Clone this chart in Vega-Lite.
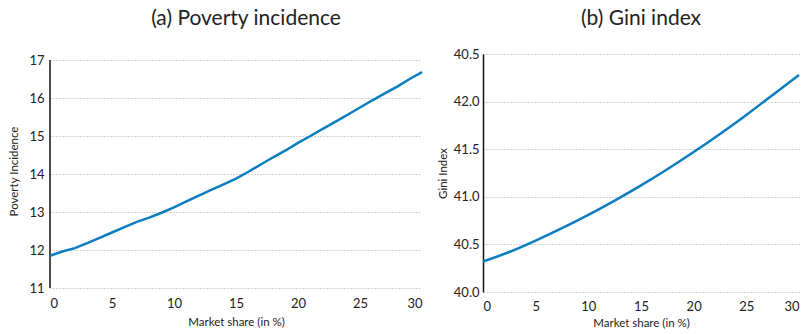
{
  "$schema": "https://vega.github.io/schema/vega-lite/v6.json",
  "background": "white",
  "padding": {"left": 8, "top": 8, "right": 6, "bottom": 2},
  "spacing": 10,
  "datasets": {
    "poverty": [
      {"share": 0, "value": 11.85}, {"share": 1, "value": 11.96}, {"share": 2, "value": 12.05},
      {"share": 3, "value": 12.18}, {"share": 4, "value": 12.32}, {"share": 5, "value": 12.46},
      {"share": 6, "value": 12.6}, {"share": 7, "value": 12.74}, {"share": 8, "value": 12.85},
      {"share": 9, "value": 12.98}, {"share": 10, "value": 13.12}, {"share": 11, "value": 13.28},
      {"share": 12, "value": 13.43}, {"share": 13, "value": 13.58}, {"share": 14, "value": 13.73},
      {"share": 15, "value": 13.88}, {"share": 16, "value": 14.06}, {"share": 17, "value": 14.25},
      {"share": 18, "value": 14.44}, {"share": 19, "value": 14.62}, {"share": 20, "value": 14.82},
      {"share": 21, "value": 15.0}, {"share": 22, "value": 15.19}, {"share": 23, "value": 15.37},
      {"share": 24, "value": 15.56}, {"share": 25, "value": 15.75}, {"share": 26, "value": 15.94},
      {"share": 27, "value": 16.12}, {"share": 28, "value": 16.3}, {"share": 29, "value": 16.5},
      {"share": 30, "value": 16.68}
    ],
    "povertyAxis": [
      {"share": 0, "low": 11, "high": 17}
    ],
    "gini": [
      {"share": 0, "value": 40.32}, {"share": 2.5, "value": 40.42}, {"share": 5, "value": 40.54},
      {"share": 7.5, "value": 40.67}, {"share": 10, "value": 40.81}, {"share": 12.5, "value": 40.96},
      {"share": 15, "value": 41.12}, {"share": 17.5, "value": 41.29}, {"share": 20, "value": 41.47},
      {"share": 22.5, "value": 41.66}, {"share": 25, "value": 41.86}, {"share": 27.5, "value": 42.07},
      {"share": 30, "value": 42.28}
    ]
  },
  "config": {
    "view": {"stroke": null},
    "font": "Lato",
    "axis": {
      "labelFont": "Lato",
      "labelFontSize": 13,
      "labelColor": "#222222",
      "titleFont": "Lato",
      "titleFontSize": 11.5,
      "titleFontWeight": "normal",
      "titleColor": "#222222",
      "ticks": false,
      "gridColor": "#a6a6a6",
      "gridDash": [1, 2],
      "gridWidth": 1
    },
    "axisX": {"domain": false, "grid": false, "labelPadding": 9, "titlePadding": 6},
    "axisY": {"domain": true, "domainColor": "#111111", "domainWidth": 1.5, "grid": true},
    "title": {"font": "Lato", "fontSize": 21, "fontWeight": "normal", "color": "#222222"}
  },
  "hconcat": [
    {
      "width": 372,
      "height": 234,
      "title": {"text": "(a) Poverty incidence", "dx": 10, "offset": 25},
      "layer": [
        {
          "data": {"name": "povertyAxis"},
          "mark": {"type": "rule", "color": "#111111", "strokeWidth": 1.5},
          "encoding": {
            "x": {"field": "share", "type": "quantitative"},
            "y": {"field": "low", "type": "quantitative"},
            "y2": {"field": "high"}
          }
        },
        {
          "data": {"name": "poverty"},
          "mark": {"type": "line", "color": "#0a7dc0", "strokeWidth": 2.5},
          "encoding": {
            "x": {"field": "share", "type": "quantitative"},
            "y": {"field": "value", "type": "quantitative"}
          }
        }
      ],
      "encoding": {
        "x": {
          "field": "share", "type": "quantitative", "title": "Market share (in %)",
          "scale": {"domain": [0, 30], "nice": false},
          "axis": {"values": [0, 5, 10, 15, 20, 25, 30]}
        },
        "y": {
          "field": "value", "type": "quantitative", "title": "Poverty Incidence",
          "scale": {"domain": [11, 17.158], "nice": false, "zero": false},
          "axis": {"values": [11, 12, 13, 14, 15, 16, 17], "domain": false, "labelPadding": 6, "titlePadding": 9}
        }
      }
    },
    {
      "width": 316,
      "height": 238,
      "title": {"text": "(b) Gini index", "offset": 19},
      "data": {"name": "gini"},
      "mark": {"type": "line", "color": "#0a7dc0", "strokeWidth": 2.5, "interpolate": "monotone"},
      "encoding": {
        "x": {
          "field": "share", "type": "quantitative", "title": "Market share (in %)",
          "scale": {"domain": [0, 30], "nice": false},
          "axis": {"values": [0, 5, 10, 15, 20, 25, 30], "labelPadding": 8, "titlePadding": 4}
        },
        "y": {
          "field": "value", "type": "quantitative", "title": "Gini Index",
          "scale": {"domain": [40, 42.5], "nice": false, "zero": false},
          "axis": {
            "values": [40, 40.5, 41, 41.5, 42, 42.5],
            "labelExpr": "datum.value == 42.5 ? '40.5' : format(datum.value, '.1f')",
            "labelPadding": 4, "titlePadding": 5
          }
        }
      }
    }
  ]
}
